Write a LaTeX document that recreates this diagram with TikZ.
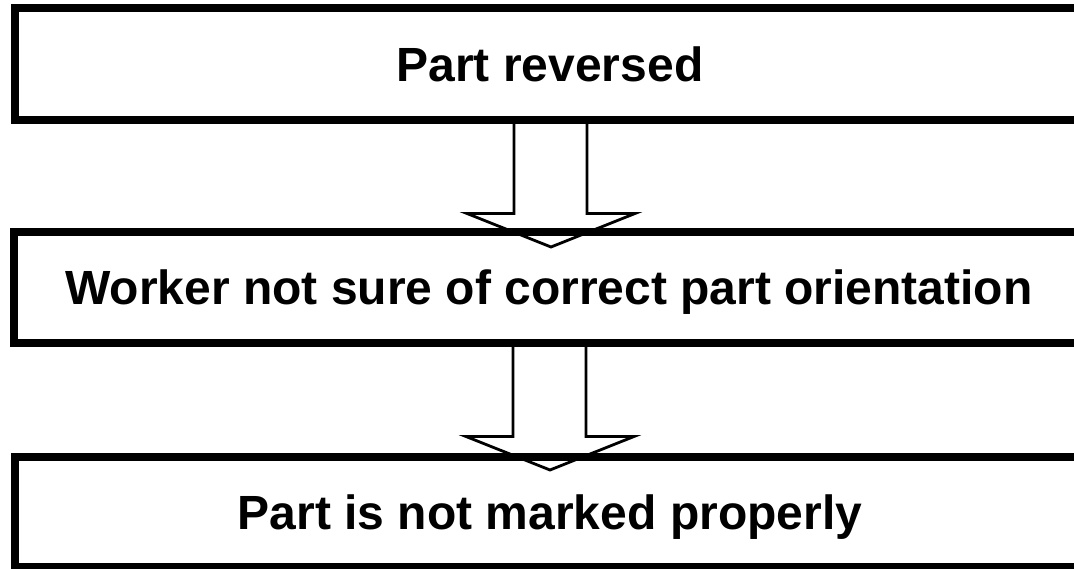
\documentclass[tikz,border=0pt]{standalone}
\usepackage{fontspec}
\setmainfont{Liberation Sans}
\usetikzlibrary{calc}
\pgfdeclarelayer{paper}
\pgfdeclarelayer{under}
\pgfsetlayers{paper,under,main}
\begin{document}
\begin{tikzpicture}[x=1pt,y=-1pt,
  causebox/.style={draw=black, line width=8pt, outer sep=0pt, inner sep=0pt,
    minimum width=1070pt, text height=34.4pt, text depth=0pt,
    font=\fontsize{48}{58}\selectfont\bfseries},
  blockarrow/.style={draw=black, fill=white, line width=2.8pt, line join=miter}]
\useasboundingbox (0,0) rectangle (1074,569);
\clip (0,0) rectangle (1074,569);
\begin{pgfonlayer}{paper}
  \fill[white] (0,0) rectangle (1074,569);
\end{pgfonlayer}

% the three cause boxes run past the right edge
\node[causebox, minimum height=112pt] (b1) at (550,64) {Part reversed};
\node[causebox, minimum height=111pt] (b2) at (549,287.5) {Worker not sure of correct part orientation};
\node[causebox, minimum height=110pt] (b3) at (550,512) {Part is not marked properly};

% hollow block arrows, tucked beneath the box borders
\begin{pgfonlayer}{under}
  \foreach \a/\b in {b1/b2, b2/b3}{
    \draw[blockarrow]
      ($(\a.south)+(-36,0)$) -- ($(\a.south)+(-36,93.5)$) -- ($(\a.south)+(-83,93.5)$)
      -- ($(\a.south)+(1,127)$) -- ($(\a.south)+(85,93.5)$) -- ($(\a.south)+(37,93.5)$)
      -- ($(\a.south)+(37,0)$) -- cycle;
  }
\end{pgfonlayer}
\end{tikzpicture}
\end{document}
